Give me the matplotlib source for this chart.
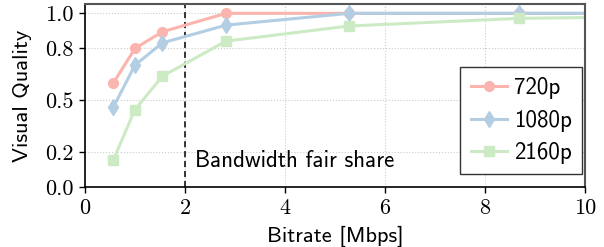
import matplotlib

matplotlib.use("Agg")
import matplotlib.pyplot as plt

# bitrate ladder (Mbps) and quality per resolution
bitrate = [0.57, 1.0, 1.55, 2.82, 5.28, 8.68, 14.0]
q_720 = [0.60, 0.798, 0.894, 1.0, 1.0, 1.0, 1.0]
q_1080 = [0.461, 0.702, 0.830, 0.932, 1.0, 1.0, 1.0]
q_2160 = [0.158, 0.446, 0.638, 0.840, 0.927, 0.971, 0.99]
fair_share = 2.0
y_ticks = [0.0, 0.2, 0.5, 0.8, 1.0]
x_ticks = [0, 2, 4, 6, 8, 10]

SANS = "cmss10"
SERIF = "cmr10"
plt.rcParams["axes.formatter.use_mathtext"] = True
plt.rcParams["mathtext.fontset"] = "cm"

fig = plt.figure(figsize=(6.04, 2.47), dpi=100)
ax = fig.add_axes([0.1407, 0.2429, 0.8278, 0.7397])

styles = [
    ("720p", q_720, "#fbb4ae", "o", 7),
    ("1080p", q_1080, "#b3cde3", "d", 8),
    ("2160p", q_2160, "#ccebc5", "s", 6.5),
]
for label, ys, col, mk, ms in styles:
    ax.plot(bitrate, ys, color=col, lw=2.2, marker=mk, markersize=ms,
            label=label, clip_on=True)

ax.axvline(fair_share, color="black", ls=(0, (4, 2.5)), lw=1.1, zorder=1)
ax.text(fair_share + 0.2, 0.15, "Bandwidth fair share", family=SANS,
        fontsize=16.5, ha="left", va="center")

ax.set_xlim(0, 10)
ax.set_ylim(0, 1.052)
ax.set_xticks(x_ticks)
ax.set_yticks(y_ticks)
ax.set_xticklabels([str(v) for v in x_ticks], family=SERIF, fontsize=16)
ax.set_yticklabels([f"{v:.1f}" for v in y_ticks], family=SERIF, fontsize=16)
ax.tick_params(length=4.5, width=1, pad=4)
ax.grid(True, color="#cccccc", ls=":", lw=0.8)
ax.set_axisbelow(True)

ax.set_xlabel("Bitrate [Mbps]", family=SANS, fontsize=16.2, labelpad=5)
ax.set_ylabel("Visual Quality", family=SANS, fontsize=16.2, labelpad=9)

for s in ("left", "bottom"):
    ax.spines[s].set_color("black")
    ax.spines[s].set_linewidth(1.2)
for s in ("top", "right"):
    ax.spines[s].set_color("#555555")
    ax.spines[s].set_linewidth(1.5)

leg = ax.legend(loc="lower right", bbox_to_anchor=(0.995, 0.07),
                prop={"family": SANS, "size": 16.5}, fancybox=False,
                framealpha=1, edgecolor="#333333", handlelength=1.6,
                handletextpad=0.3, borderpad=0.45, labelspacing=0.45,
                borderaxespad=0.0)
leg.get_frame().set_linewidth(1.0)

fig.savefig("out.png", dpi=100)
